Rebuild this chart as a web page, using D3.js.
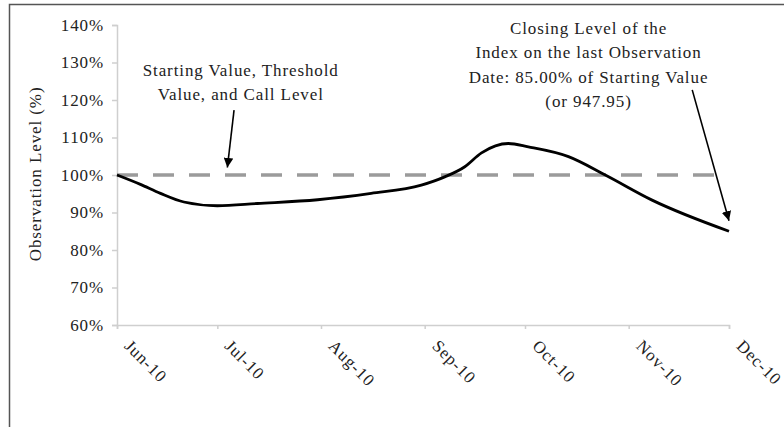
<!DOCTYPE html>
<html>
<head>
<meta charset="utf-8">
<script src="https://cdn.jsdelivr.net/npm/d3@7"></script>
<style>
  body { margin: 0; background: #fff; }
  svg { display: block; }
  text { font-family: "Liberation Serif", "Times New Roman", serif; fill: #222; letter-spacing: 0.9px; }
</style>
</head>
<body>
<script>
// ---- data ----
var obsDates = ["2010-06-01", "2010-06-08", "2010-06-14", "2010-06-21", "2010-07-01", "2010-07-13",
                "2010-07-31", "2010-08-16", "2010-08-31", "2010-09-07", "2010-09-13", "2010-09-18",
                "2010-09-26", "2010-10-02", "2010-10-14", "2010-10-25", "2010-11-08", "2010-12-01"];
var obsLevels = [100, 97.5, 95.1, 92.8, 91.8, 92.4,
                 93.4, 95.1, 97.3, 99.5, 102.2, 105.9,
                 108.4, 107.5, 104.9, 100.0, 93.3, 85.0];
var startLevel = 100;
var yTicks = [60, 70, 80, 90, 100, 110, 120, 130, 140];
var monthTicks = ["2010-06-01", "2010-07-01", "2010-08-01", "2010-09-01", "2010-10-01", "2010-11-01", "2010-12-01"];
var leftNote = ["Starting Value, Threshold", "Value, and Call Level"];
var rightNote = ["Closing Level of the", "Index on the last Observation", "Date: 85.00% of Starting Value", "(or 947.95)"];

var W = 784, H = 427;
var margin = {top: 25, right: 55, bottom: 102, left: 117};
var parse = d3.timeParse("%Y-%m-%d");

var svg = d3.select("body").append("svg")
    .attr("width", W)
    .attr("height", H);

// outer frame (runs off the right and bottom edges like the scan)
svg.append("rect")
    .attr("x", 9.5).attr("y", 4.5)
    .attr("width", 900).attr("height", 600)
    .attr("fill", "none")
    .attr("stroke", "#555")
    .attr("stroke-width", 1.5);

var x = d3.scaleTime()
    .domain([parse(monthTicks[0]), parse(monthTicks[monthTicks.length - 1])])
    .range([margin.left, W - margin.right]);
var y = d3.scaleLinear()
    .domain([60, 140])
    .range([H - margin.bottom, margin.top]);

// y axis
var yAxis = svg.append("g")
    .attr("transform", "translate(" + margin.left + ",0)")
    .call(d3.axisLeft(y).tickValues(yTicks).tickSize(5).tickPadding(8)
        .tickFormat(function(d) { return d + "%"; }));
yAxis.selectAll("line, path").attr("stroke", "#cfcfcf").attr("stroke-width", 1.5);
yAxis.selectAll("text").attr("font-size", 17).attr("fill", "#222")
    .attr("font-family", "Liberation Serif, serif");

// x axis
var xAxis = svg.append("g")
    .attr("transform", "translate(0," + (H - margin.bottom) + ")")
    .call(d3.axisBottom(x).tickValues(monthTicks.map(parse)).tickSize(4)
        .tickFormat(d3.timeFormat("%b-%y")));
xAxis.selectAll("line, path").attr("stroke", "#cfcfcf").attr("stroke-width", 1.5);
xAxis.selectAll("text")
    .attr("font-size", 17).attr("fill", "#222")
    .attr("font-family", "Liberation Serif, serif")
    .attr("text-anchor", "start")
    .attr("dy", null)
    .attr("y", 0)
    .attr("transform", "translate(6,22) rotate(45)");

// y title
svg.append("text")
    .attr("transform", "translate(41," + y(100.3) + ") rotate(-90)")
    .attr("text-anchor", "middle")
    .attr("font-size", 17)
    .text("Observation Level (%)");

// starting value line
svg.append("line")
    .attr("x1", x(parse(monthTicks[0]))).attr("x2", x(parse(monthTicks[monthTicks.length - 1])))
    .attr("y1", y(startLevel)).attr("y2", y(startLevel))
    .attr("stroke", "#9b9b9b")
    .attr("stroke-width", 3.5)
    .attr("stroke-dasharray", "21,15");

// observation line
var series = obsDates.map(function(d, i) { return {date: parse(d), v: obsLevels[i]}; });
svg.append("path")
    .datum(series)
    .attr("fill", "none")
    .attr("stroke", "#000")
    .attr("stroke-width", 2.8)
    .attr("stroke-linejoin", "round")
    .attr("d", d3.line().curve(d3.curveMonotoneX)
        .x(function(d) { return x(d.date); })
        .y(function(d) { return y(d.v); }));

// arrowhead
svg.append("defs").append("marker")
    .attr("id", "arrow")
    .attr("viewBox", "0 0 10 10")
    .attr("refX", 10).attr("refY", 5)
    .attr("markerWidth", 6).attr("markerHeight", 6)
    .attr("markerUnits", "strokeWidth")
    .attr("orient", "auto")
    .append("path").attr("d", "M0,0L10,5L0,10z").attr("fill", "#000");

// annotations (placed in data space)
function note(lines, date, topLevel) {
  svg.append("g").selectAll("text")
      .data(lines)
      .enter().append("text")
      .attr("x", x(parse(date)))
      .attr("y", function(d, i) { return y(topLevel) + i * 24.3; })
      .attr("text-anchor", "middle")
      .attr("font-size", 17)
      .text(function(d) { return d; });
}
function arrow(d0, v0, d1, v1) {
  svg.append("line")
      .attr("x1", x(parse(d0))).attr("y1", y(v0))
      .attr("x2", x(parse(d1))).attr("y2", y(v1))
      .attr("stroke", "#000")
      .attr("stroke-width", 1.6)
      .attr("marker-end", "url(#arrow)");
}

note(leftNote, "2010-07-08", 126.4);
arrow("2010-07-06", 117.3, "2010-07-04", 102.0);

note(rightNote, "2010-10-20", 137.6);
arrow("2010-11-20", 122.7, "2010-12-01", 87.8);
</script>
</body>
</html>
